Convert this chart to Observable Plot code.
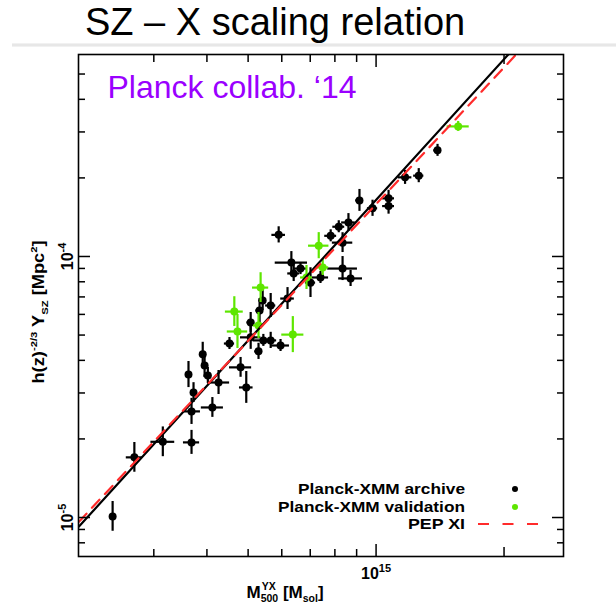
<!DOCTYPE html>
<html>
<head>
<meta charset="utf-8">
<script src="https://cdn.jsdelivr.net/npm/d3@7"></script>
<script src="https://cdn.jsdelivr.net/npm/@observablehq/plot@0.6"></script>
<style>
  html, body { margin:0; padding:0; background:#fff; }
  body { width:616px; height:605px; position:relative; overflow:hidden; font-family:"Liberation Sans", Arial, sans-serif; }
  #title { position:absolute; left:85px; top:0; margin:0; font-weight:normal; font-size:38px; line-height:44px; white-space:nowrap; color:#000; z-index:2; }
  #rule { position:absolute; left:12px; width:604px; top:43px; height:4px; background:linear-gradient(#f6f6f6,#e2e2e2,#f6f6f6); z-index:1; }
  #chart { position:absolute; left:0; top:0; }
</style>
</head>
<body>
<h1 id="title">SZ – X scaling relation</h1>
<div id="rule"></div>
<div id="chart"></div>
<script>
// ---- Data ----
// Planck-XMM archive: mass M500^YX in units of 1e14 Msol, Y in units of 1e-5 Mpc^2, errors in dex
const archiveMass = [2.40,2.70,3.15,3.68,3.68,4.12,3.62,3.72,3.91,3.95,4.02,4.26,4.80,4.95,4.52,5.07,5.07,5.32,5.41,5.65,5.43,5.29,5.65,5.96,6.19,5.90,6.32,6.40,7.01,6.64,7.40,7.82,8.34,8.17,8.61,8.34,8.71,9.14,9.81,10.7,10.7,11.7,12.6,13.95];
const archiveY = [1.01,1.70,1.95,1.94,2.55,2.64,3.53,3.01,4.22,3.82,3.50,3.29,3.76,3.15,4.64,4.90,5.59,6.21,6.78,6.49,4.77,4.33,4.77,4.56,6.90,12.1,9.48,8.61,7.94,8.99,8.31,12.0,11.3,13.0,13.5,8.99,8.24,16.4,15.3,16.7,15.6,20.1,20.4,25.5];
const archiveMassErr = [0.007,0.019,0.028,0.019,0.021,0.026,0.007,0.007,0.007,0.007,0.009,0.026,0.026,0.016,0.012,0.024,0.009,0.009,0.009,0.012,0.024,0.009,0.014,0.021,0.016,0.016,0.038,0.014,0.012,0.014,0.019,0.014,0.024,0.014,0.016,0.035,0.028,0.009,0.012,0.014,0.014,0.016,0.012,0.009];
const archiveYErr = [0.057,0.057,0.057,0.046,0.050,0.038,0.050,0.038,0.046,0.046,0.031,0.046,0.038,0.061,0.023,0.046,0.038,0.046,0.038,0.046,0.023,0.031,0.031,0.023,0.042,0.031,0.042,0.031,0.057,0.023,0.023,0.023,0.038,0.023,0.034,0.046,0.031,0.042,0.031,0.031,0.031,0.027,0.027,0.023];

// Planck-XMM validation
const validationMass = [4.64,4.72,5.35,5.29,6.37,7.33,7.49,6.86,15.6];
const validationY = [6.15,5.16,7.60,5.44,5.02,11.0,9.08,8.31,31.5];
const validationMassErr = [0.021,0.024,0.019,0.012,0.026,0.024,0.014,0.014,0.026];
const validationYErr = [0.057,0.065,0.057,0.050,0.069,0.050,0.031,0.046,0.019];

// Scaling relations Y = norm*1e-4 * (M / 6e14)^slope
const fitPivot = 6e14;
const fitNorm = 0.66, fitSlope = 1.79;     // this work (solid black)
const pepNorm = 0.652, pepSlope = 1.74;    // PEP XI (red dashed)
const fitMassEnds = [2, 30];               // x1e14 Msol

// Axis ticks
const xMajorTicks = [1e15];
const xMinorTicks = [3e14,4e14,5e14,6e14,7e14,8e14,9e14];
const xMidTicks = [2e15];
const yMajorTicks = [1e-5, 1e-4];
const yMinorTicks = [8e-6,9e-6,2e-5,3e-5,4e-5,5e-5,6e-5,7e-5,8e-5,9e-5,2e-4,3e-4,4e-4,5e-4];

const legendLabels = ["Planck-XMM archive", "Planck-XMM validation", "PEP XI"];
const annotation = "Planck collab. \u201814";

// ---- Build tables ----
function rows(M, Y, dM, dY) {
  return M.map((m, i) => {
    const mm = m * 1e14, yy = Y[i] * 1e-5;
    return {m: mm, y: yy, m1: mm * 10 ** -dM[i], m2: mm * 10 ** dM[i], y1: yy * 10 ** -dY[i], y2: yy * 10 ** dY[i]};
  });
}
const archive = rows(archiveMass, archiveY, archiveMassErr, archiveYErr);
const validation = rows(validationMass, validationY, validationMassErr, validationYErr);
const rel = (norm, slope) => fitMassEnds.map(m => ({m: m * 1e14, y: norm * 1e-4 * (m * 1e14 / fitPivot) ** slope}));
const fitLine = rel(fitNorm, fitSlope);
const pepLine = rel(pepNorm, pepSlope);

const pow10 = d => "10^" + Math.round(Math.log10(d));

const green = "#5ee600";
const tickStyle = {label: null, tickFormat: () => "", strokeWidth: 1.5, stroke: "#000"};
// inward ticks: draw the tick shifted inside the frame by its own length
const inTicks = (axis, data, anchor, len) => {
  const off = {bottom: {dy: -len}, top: {dy: len}, left: {dx: len}, right: {dx: -len}}[anchor];
  return axis(data, {anchor, tickSize: len, ...off, ...tickStyle});
};

const plot = Plot.plot({
  width: 616, height: 605,
  marginLeft: 78, marginRight: 53, marginTop: 54, marginBottom: 49,
  style: {fontFamily: "'Liberation Sans', Arial, sans-serif", background: "transparent"},
  x: {type: "log", domain: [1.995e14, 2.76e15]},
  y: {type: "log", domain: [7.09e-6, 5.94e-4]},
  marks: [
    // error bars + points
    Plot.ruleY(archive, {y: "y", x1: "m1", x2: "m2", stroke: "#000", strokeWidth: 2.2}),
    Plot.ruleX(archive, {x: "m", y1: "y1", y2: "y2", stroke: "#000", strokeWidth: 2.2}),
    Plot.dot(archive, {x: "m", y: "y", r: 4, fill: "#000"}),
    Plot.ruleY(validation, {y: "y", x1: "m1", x2: "m2", stroke: green, strokeWidth: 2.2}),
    Plot.ruleX(validation, {x: "m", y1: "y1", y2: "y2", stroke: green, strokeWidth: 2.2}),
    Plot.dot(validation, {x: "m", y: "y", r: 4, fill: green}),
    // relations
    Plot.line(fitLine, {x: "m", y: "y", stroke: "#000", strokeWidth: 2.2, clip: true}),
    Plot.line(pepLine, {x: "m", y: "y", stroke: "#ff2b2b", strokeWidth: 2.2, strokeDasharray: "11,8", clip: true}),
    // frame and inward ticks
    Plot.frame({stroke: "#000", strokeWidth: 1.6}),
    inTicks(Plot.axisX, xMajorTicks, "bottom", 12),
    inTicks(Plot.axisX, xMajorTicks, "top", 12),
    inTicks(Plot.axisX, xMidTicks, "bottom", 9),
    inTicks(Plot.axisX, xMidTicks, "top", 9),
    inTicks(Plot.axisX, xMinorTicks, "bottom", 7),
    inTicks(Plot.axisX, xMinorTicks, "top", 7),
    inTicks(Plot.axisY, yMajorTicks, "left", 12),
    inTicks(Plot.axisY, yMajorTicks, "right", 12),
    inTicks(Plot.axisY, yMinorTicks, "left", 7),
    inTicks(Plot.axisY, yMinorTicks, "right", 7),
    // tick labels (rewritten below into base + superscript)
    Plot.text(xMajorTicks, {x: d => d, frameAnchor: "bottom", dy: 17, text: pow10, lineAnchor: "middle", fontSize: 16, fontWeight: "bold", fill: "#000"}),
    Plot.text(yMajorTicks, {y: d => d, frameAnchor: "left", dx: -11, rotate: -90, text: pow10, lineAnchor: "middle", textAnchor: "middle", fontSize: 16, fontWeight: "bold", fill: "#000"}),
    // annotation
    Plot.text([annotation], {frameAnchor: "top-left", dx: 29, dy: 43, text: d => d, textAnchor: "start", lineAnchor: "bottom", fontSize: 32, fill: "#9a00ff"})
  ]
});
document.getElementById("chart").appendChild(plot);

const svg = d3.select(plot);

// tick labels: "10^n" -> 10 with raised exponent
svg.selectAll("text").each(function() {
  const m = /^10\^(-?\d+)$/.exec(this.textContent);
  if (!m) return;
  const el = d3.select(this);
  this.textContent = "";
  el.append("tspan").text("10");
  el.append("tspan").text(m[1]).attr("font-size", 11).attr("dy", -7);
});

// ---- Rich-text axis titles and legend ----
function rich(sel, parts, fs) {
  let cur = 0;
  parts.forEach(p => {
    const target = p.sup ? -0.42 * fs : p.sub ? 0.25 * fs : 0;
    const t = sel.append("tspan").text(p.t).attr("dy", target - cur);
    if (p.sup || p.sub) t.attr("font-size", 0.62 * fs);
    cur = target;
  });
}
// y title
const yt = svg.append("text")
  .attr("transform", "translate(44,312) rotate(-90)")
  .attr("text-anchor", "middle").attr("font-size", 16).attr("font-weight", "bold")
  .attr("font-family", "'Liberation Sans', Arial, sans-serif").attr("fill", "#000")
  .attr("textLength", 143).attr("lengthAdjust", "spacingAndGlyphs");
rich(yt, [{t: "h(z)"}, {t: "-2/3", sup: true}, {t: " Y"}, {t: "SZ", sub: true}, {t: " [Mpc"}, {t: "2", sup: true}, {t: "]"}], 16);

// x title: M with stacked sup YX / sub 500
const xt = svg.append("text")
  .attr("x", 285).attr("y", 598)
  .attr("font-size", 17).attr("font-weight", "bold")
  .attr("font-family", "'Liberation Sans', Arial, sans-serif").attr("fill", "#000");
xt.append("tspan").text("M");
const supT = xt.append("tspan").text("YX").attr("font-size", 10.5).attr("dy", -8).attr("dx", 1);
const supW = supT.node().getComputedTextLength();
xt.append("tspan").text("500").attr("font-size", 10.5).attr("dy", 12).attr("dx", -supW - 1);
xt.append("tspan").text(" [M").attr("dy", -4);
xt.append("tspan").text("sol").attr("font-size", 10.5).attr("dy", 4);
xt.append("tspan").text("]").attr("dy", -4);

// legend
const lg = svg.append("g").attr("font-family", "'Liberation Sans', Arial, sans-serif")
  .attr("font-size", 15).attr("font-weight", "bold").attr("fill", "#000");
const rowsY = [489, 507, 524];
const lens = [167, 187, 57];
legendLabels.forEach((s, i) => {
  lg.append("text").attr("x", 465).attr("y", rowsY[i] + 5).attr("text-anchor", "end")
    .attr("textLength", lens[i]).attr("lengthAdjust", "spacingAndGlyphs").text(s);
});
lg.append("circle").attr("cx", 515).attr("cy", rowsY[0]).attr("r", 3).attr("fill", "#000");
lg.append("circle").attr("cx", 515).attr("cy", rowsY[1]).attr("r", 3).attr("fill", green);
lg.append("line").attr("x1", 478).attr("x2", 545).attr("y1", rowsY[2]).attr("y2", rowsY[2])
  .attr("stroke", "#ff2b2b").attr("stroke-width", 2).attr("stroke-dasharray", "11,13.5");
</script>
</body>
</html>
